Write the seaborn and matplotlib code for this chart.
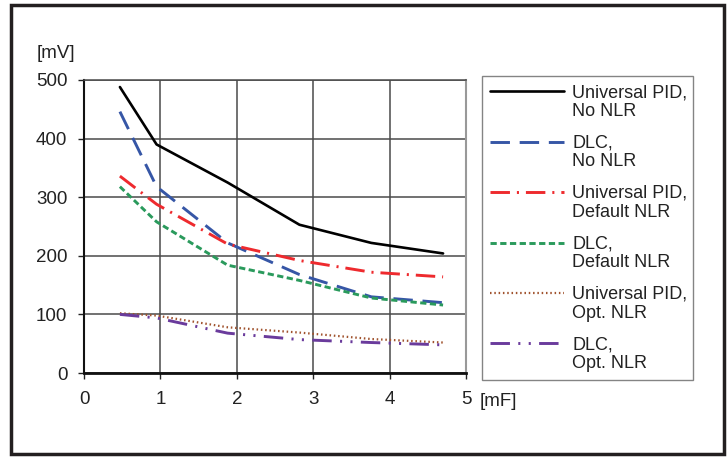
import matplotlib
matplotlib.use("Agg")
import matplotlib.pyplot as plt
import seaborn as sns
import pandas as pd
from matplotlib.patches import Rectangle

capacitance = [0.47, 0.95, 1.88, 2.82, 3.76, 4.70]
upid_no_nlr = [488, 390, 325, 253, 222, 204]
dlc_no_nlr = [446, 318, 222, 168, 130, 120]
upid_default_nlr = [336, 288, 220, 192, 172, 164]
dlc_default_nlr = [318, 258, 184, 158, 128, 116]
upid_opt_nlr = [102, 98, 78, 69, 58, 52]
dlc_opt_nlr = [100, 94, 68, 57, 52, 48]

labels = ["Universal PID,\nNo NLR", "DLC,\nNo NLR", "Universal PID,\nDefault NLR",
          "DLC,\nDefault NLR", "Universal PID,\nOpt. NLR", "DLC,\nOpt. NLR"]
series = [upid_no_nlr, dlc_no_nlr, upid_default_nlr, dlc_default_nlr, upid_opt_nlr, dlc_opt_nlr]
colors = ["#000000", "#3656a6", "#ee2a2e", "#2a9a5c", "#a0522d", "#6a3b9c"]
styles = ["-", (0, (14, 7)), (0, (14, 5, 1.5, 5)), (0, (4.5, 2.5)), (0, (1.1, 2.0)),
          (0, (14, 6, 1.5, 6, 1.5, 6))]
widths = [1.9, 2.1, 2.1, 2.1, 1.6, 2.1]

sns.set_style("white")
plt.rcParams['font.family'] = ['Liberation Sans', 'DejaVu Sans']
plt.rcParams['lines.scale_dashes'] = False

fig = plt.figure(figsize=(7.28, 4.57), dpi=100)
ax = fig.add_axes([84/728, 1-373/457, (466-84)/728, (373-80)/457])

for lab, ys, c, ls, lw in zip(labels, series, colors, styles, widths):
    df = pd.DataFrame({"x": capacitance, "y": ys})
    sns.lineplot(data=df, x="x", y="y", ax=ax, color=c, linestyle=ls, linewidth=lw,
                 label=lab, zorder=3)

ax.set_xlim(0, 5)
ax.set_ylim(0, 500)
ax.set_xticks(range(0, 6))
ax.set_yticks(range(0, 501, 100))
ax.set_xlabel("")
ax.set_ylabel("")
ax.tick_params(axis='both', labelsize=13.5, colors="#222222", length=4, width=1,
               direction='out')
ax.tick_params(axis='x', bottom=True, pad=9)
ax.tick_params(axis='y', left=True, pad=8)
ax.grid(True, color="#4a4a4a", linewidth=1.1)
ax.set_axisbelow(True)
ax.spines['left'].set_color("#111111")
ax.spines['left'].set_linewidth(1.5)
ax.spines['bottom'].set_color("#111111")
ax.spines['bottom'].set_linewidth(2.0)
ax.spines['right'].set_color("#999999")
ax.spines['right'].set_linewidth(1.5)
ax.spines['top'].set_color("#4a4a4a")
ax.spines['top'].set_linewidth(1.1)

fig.text(56/728, 1-53/457, "[mV]", fontsize=13.5, ha='center', va='center', color="#222222")
fig.text(498/728, 1-402/457, "[mF]", fontsize=13.5, ha='center', va='center', color="#222222")

handles, labs = ax.get_legend_handles_labels()
ax.get_legend().remove()
leg = fig.legend(handles, labs, loc='upper left',
                 bbox_to_anchor=(482/728, 1-380/457, (693-482)/728, (380-76)/457),
                 mode='expand', fontsize=13, frameon=True, fancybox=False,
                 edgecolor="#666666", handlelength=4.1, handletextpad=0.45,
                 labelspacing=0.8, borderpad=0.45, borderaxespad=0)
leg.get_frame().set_linewidth(1.0)
for t in leg.get_texts():
    t.set_color("#222222")
    t.set_linespacing(1.15)
# align each legend sample with the first line of its two-line label
for h in leg.legend_handles:
    h.set_ydata([y + 7.8 for y in h.get_ydata()])

fig.patches.append(Rectangle((11/728, 3/457), (724-11)/728, (455-6)/457,
                             transform=fig.transFigure, fill=False,
                             edgecolor="#231f20", linewidth=2.5))

fig.savefig("out.png", dpi=100)
